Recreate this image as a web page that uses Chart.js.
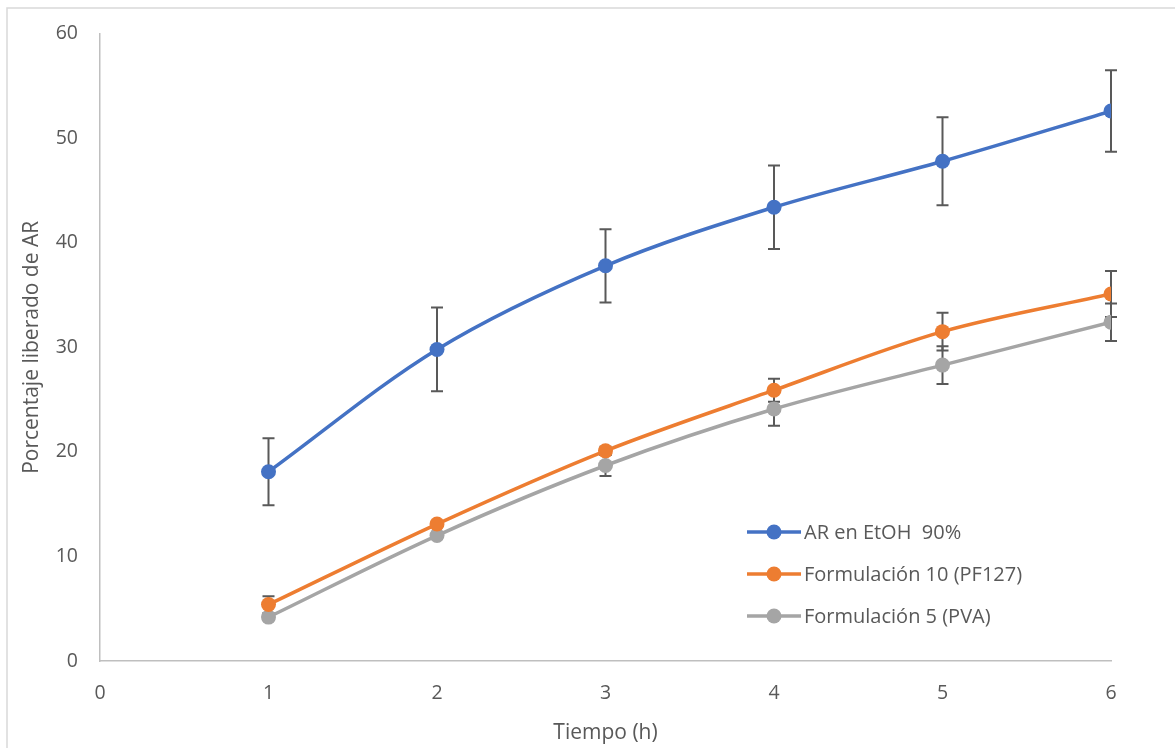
<!DOCTYPE html>
<html lang="es">
<head>
<meta charset="utf-8">
<title>Porcentaje liberado de AR</title>
<script src="https://cdn.jsdelivr.net/npm/chart.js@4.4.1/dist/chart.umd.min.js"></script>
<style>
  html, body { margin: 0; padding: 0; background: #fff; }
  #wrap { width: 1175px; height: 748px; position: relative; }
</style>
</head>
<body>
<div id="wrap"><canvas id="liberacion"></canvas></div>
<script>
// Tiempo (h) y porcentaje liberado, con su desviación
const tiempo = [1, 2, 3, 4, 5, 6];

const arEtoh = [18.1, 29.8, 37.8, 43.4, 47.8, 52.6];
const arEtohErr = [3.2, 4.0, 3.5, 4.0, 4.2, 3.9];

const form10 = [5.4, 13.1, 20.1, 25.9, 31.5, 35.1];
const form10Err = [0.8, 0.3, 0.4, 1.1, 1.8, 2.2];

const form5 = [4.2, 12.0, 18.7, 24.1, 28.3, 32.4];
const form5Err = [0.3, 0.3, 1.0, 1.6, 1.8, 1.8];

const ejeX = { min: 0, max: 6, paso: 1 };
const ejeY = { min: 0, max: 60, paso: 10 };

const series = [
    { label: 'AR en EtOH  90%', data: arEtoh, err: arEtohErr, color: '#4472C4' },
    { label: 'Formulación 10 (PF127)', data: form10, err: form10Err, color: '#ED7D31' },
    { label: 'Formulación 5 (PVA)', data: form5, err: form5Err, color: '#A5A5A5' }
];

const FONT = '"Open Sans", "Noto Sans", sans-serif';
const GRIS_TEXTO = '#595959';
const GRIS_EJE = '#BFBFBF';

// Barras de error verticales con remate
const errorBars = {
    id: 'errorBars',
    beforeDatasetsDraw(chart) {
        const { ctx, scales: { x, y } } = chart;
        ctx.save();
        ctx.strokeStyle = '#595959';
        ctx.lineWidth = 2;
        chart.data.datasets.forEach(ds => {
            ds.data.forEach((p, i) => {
                const e = ds.errores[i];
                const px = x.getPixelForValue(p.x);
                const top = y.getPixelForValue(p.y + e);
                const bot = y.getPixelForValue(p.y - e);
                ctx.beginPath();
                ctx.moveTo(px, top);
                ctx.lineTo(px, bot);
                ctx.moveTo(px - 6, top);
                ctx.lineTo(px + 6, top);
                ctx.moveTo(px - 6, bot);
                ctx.lineTo(px + 6, bot);
                ctx.stroke();
            });
        });
        ctx.restore();
    }
};

// Leyenda dentro del área de trazado: línea con marcador
const leyenda = {
    id: 'leyenda',
    afterDraw(chart) {
        const { ctx } = chart;
        const x0 = 747, y0 = 532, salto = 42;
        ctx.save();
        ctx.font = '20px ' + FONT;
        ctx.textBaseline = 'middle';
        chart.data.datasets.forEach((ds, i) => {
            const yy = y0 + i * salto;
            ctx.strokeStyle = ds.borderColor;
            ctx.lineWidth = 3.5;
            ctx.beginPath();
            ctx.moveTo(x0, yy);
            ctx.lineTo(x0 + 54, yy);
            ctx.stroke();
            ctx.fillStyle = ds.borderColor;
            ctx.beginPath();
            ctx.arc(x0 + 27, yy, 7.5, 0, Math.PI * 2);
            ctx.fill();
            ctx.fillStyle = GRIS_TEXTO;
            ctx.fillText(ds.label, x0 + 57, yy + 1);
        });
        ctx.restore();
    }
};

// Marco del gráfico
const marco = {
    id: 'marco',
    beforeDraw(chart) {
        const { ctx } = chart;
        ctx.save();
        ctx.strokeStyle = '#D9D9D9';
        ctx.lineWidth = 1.5;
        ctx.beginPath();
        ctx.moveTo(7, chart.height);
        ctx.lineTo(7, 8);
        ctx.lineTo(chart.width, 8);
        ctx.stroke();
        ctx.restore();
    }
};

const datasets = series.map(s => ({
    label: s.label,
    data: tiempo.map((t, i) => ({ x: t, y: s.data[i] })),
    errores: s.err,
    borderColor: s.color,
    backgroundColor: s.color,
    borderWidth: 3.5,
    pointRadius: 7.5,
    pointBorderWidth: 0,
    pointBorderColor: s.color,
    pointBackgroundColor: s.color,
    tension: 0.33,
    fill: false
}));

new Chart(document.getElementById('liberacion'), {
    type: 'line',
    data: { datasets },
    plugins: [marco, errorBars, leyenda],
    options: {
        responsive: true,
        maintainAspectRatio: false,
        animation: false,
        layout: { padding: { left: 19, right: 64, top: 31, bottom: 2 } },
        plugins: {
            legend: { display: false },
            tooltip: { enabled: false }
        },
        scales: {
            x: {
                type: 'linear',
                min: ejeX.min,
                max: ejeX.max,
                afterFit: s => { s.height = 85; },
                ticks: {
                    stepSize: ejeX.paso,
                    padding: 21,
                    color: GRIS_TEXTO,
                    font: { family: FONT, size: 19.5 }
                },
                grid: { display: true, drawOnChartArea: false, drawTicks: false },
                border: { display: true, color: GRIS_EJE, width: 1.5 },
                title: {
                    display: true,
                    text: 'Tiempo (h)',
                    color: GRIS_TEXTO,
                    padding: 0,
                    font: { family: FONT, size: 21 }
                }
            },
            y: {
                min: ejeY.min,
                max: ejeY.max,
                afterFit: s => { s.width = 81; },
                ticks: {
                    stepSize: ejeY.paso,
                    padding: 22,
                    color: GRIS_TEXTO,
                    font: { family: FONT, size: 19.5 }
                },
                grid: { display: true, drawOnChartArea: false, drawTicks: false },
                border: { display: true, color: GRIS_EJE, width: 1.5 },
                title: {
                    display: true,
                    text: 'Porcentaje liberado de AR',
                    color: GRIS_TEXTO,
                    padding: 0,
                    font: { family: FONT, size: 21 }
                }
            }
        }
    }
});
</script>
</body>
</html>
